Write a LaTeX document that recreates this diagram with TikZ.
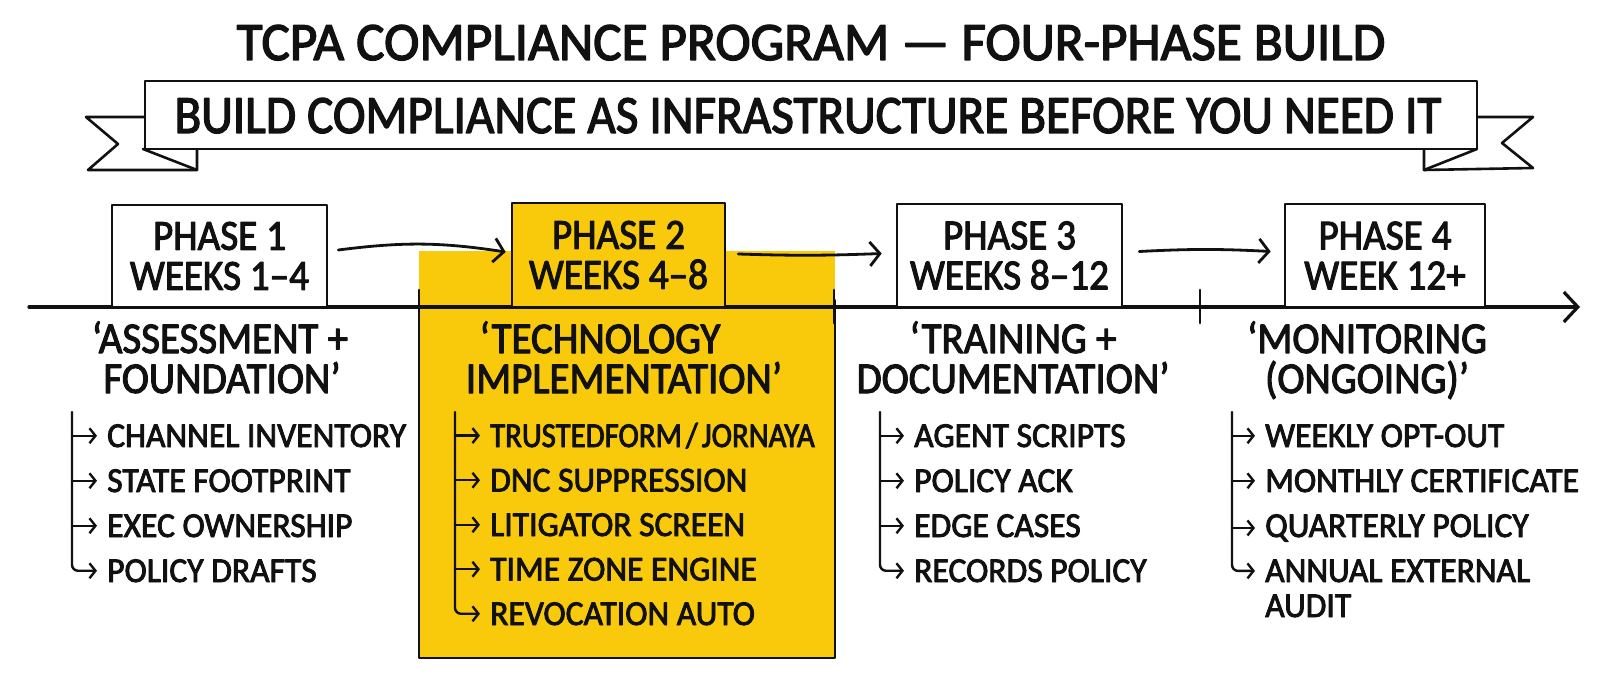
\documentclass[tikz,border=0pt]{standalone}
\usepackage{fontspec}
\setmainfont{Carlito}[FakeStretch=0.91, FakeBold=2.4]
\newfontfamily\titlefont{Carlito}[FakeStretch=0.985, FakeBold=2.6]
\newfontfamily\subfont{Carlito}[FakeStretch=0.93, FakeBold=2.4]
\newfontfamily\itemfont{Carlito}[FakeStretch=0.96, FakeBold=2.5]
\newfontfamily\narrowitemfont{Carlito}[FakeStretch=0.88, FakeBold=2.5]
\usetikzlibrary{arrows.meta,calc}
\definecolor{hy}{RGB}{249,201,12}
\definecolor{ink}{RGB}{17,17,17}
\begin{document}
\begin{tikzpicture}[x=1pt,y=-1pt,line cap=round,line join=round,
  every node/.style={text=ink},
  titletext/.style={font=\titlefont\fontsize{54}{54}\selectfont, inner sep=0pt},
  bannertextstyle/.style={font=\fontsize{54}{54}\selectfont, inner sep=0pt},
  phasebox/.style={draw=ink, line width=2.6pt, align=center, font=\fontsize{43}{40}\selectfont, inner sep=0pt},
  sublabel/.style={font=\subfont\fontsize{44}{40}\selectfont, inner sep=0pt, anchor=base},
  item/.style={font=\itemfont\fontsize{35}{35}\selectfont, inner sep=0pt, anchor=base west},
  flowarr/.style={draw=ink, line width=2.8pt, -{Straight Barb[length=10pt,width=24pt,line width=2.8pt]}},
  itemarr/.style={draw=ink, line width=2.4pt, -{Straight Barb[length=6pt,width=15pt,line width=2.4pt]}},
  bannerline/.style={draw=ink, line width=2.6pt},
  tick/.style={draw=ink, line width=2.8pt}]
\useasboundingbox (0,0) rectangle (1600,679);
\fill[white] (0,0) rectangle (1600,679);

% title
\node[titletext, anchor=base] (title) at (811,60) {TCPA COMPLIANCE PROGRAM — FOUR-PHASE BUILD};

% banner tails
\begin{scope}
  \clip (143,149) -- (197,149) -- (197,170) -- cycle;
  \foreach \k in {0,...,20} {\draw[ink, line width=1pt] (120+5*\k,175) -- (145+5*\k,140);}
\end{scope}
\begin{scope}
  \clip (1424,149) -- (1477,149) -- (1424,170) -- cycle;
  \foreach \k in {0,...,20} {\draw[ink, line width=1pt] (1400+5*\k,175) -- (1425+5*\k,140);}
\end{scope}
\draw[bannerline, fill=white] (145,117) -- (86,117) -- (118,144) -- (88,170) -- (197,170) -- (197,149);
\draw[bannerline] (143,149) -- (197,170);
\draw[bannerline, fill=white] (1477,117) -- (1533,117) -- (1502,143) -- (1533,168) -- (1424,170) -- (1424,149);
\draw[bannerline] (1477,149) -- (1424,170);
\node[draw=ink, line width=2.6pt, fill=white, minimum width=1332pt, minimum height=68pt, inner sep=0pt] (banner) at (811,115) {};
\node[bannertextstyle, anchor=base] (bannertext) at (808,133) {BUILD COMPLIANCE AS INFRASTRUCTURE BEFORE YOU NEED IT};

% highlight column
\fill[hy] (419,251) rectangle (835,658);
\draw[ink, line width=1.6pt] (419,300) -- (419,658) -- (835,658) -- (835,300);

% timeline
\coordinate (tl0) at (29,307);
\coordinate (tl1) at (1580,307);
\draw[draw=ink, line width=3.2pt, -{Straight Barb[length=14pt,width=30pt,line width=3.2pt]}] (tl0) -- (tl1);
\foreach \xx in {419,834,1200} {\draw[tick] (\xx,290) -- (\xx,323);}

% phase boxes
\node[phasebox, fill=white, minimum width=215pt, minimum height=102pt] (p1) at (219.5,256) {PHASE 1\\WEEKS 1–4};
\node[phasebox, fill=hy, minimum width=213pt, minimum height=104pt] (p2) at (618.5,255) {PHASE 2\\WEEKS 4–8};
\node[phasebox, fill=white, minimum width=225pt, minimum height=103pt] (p3) at (1009.5,255.5) {PHASE 3\\WEEKS 8–12};
\node[phasebox, fill=white, minimum width=200pt, minimum height=103pt] (p4) at (1385,255.5) {PHASE 4\\WEEK 12+};

% flow arrows
\draw[flowarr] ($(p1.east)+(10,-6)$) to[bend left=8] ($(p2.west)+(-5,-3)$);
\draw[flowarr] ($(p2.east)+(12,-1)$) to[bend right=2] ($(p3.west)+(-14,-2)$);
\draw[flowarr] ($(p3.east)+(16,-4)$) to[bend left=3] ($(p4.west)+(-13,-4)$);

% sub labels
\node[sublabel] (s1a) at (220,353) {‘ASSESSMENT +};
\node[sublabel] (s1b) at (222,393) {FOUNDATION’};
\node[sublabel] (s2a) at (600,353) {‘TECHNOLOGY};
\node[sublabel] (s2b) at (624,393) {IMPLEMENTATION’};
\node[sublabel] (s3a) at (1013,353) {‘TRAINING +};
\node[sublabel] (s3b) at (1013,393) {DOCUMENTATION’};
\node[sublabel] (s4a) at (1367,353) {‘MONITORING};
\node[sublabel] (s4b) at (1367,393) {(ONGOING)’};

% lists
% column 1
\coordinate (b1) at (72,412);
\foreach \t [count=\i] in {CHANNEL INVENTORY, STATE FOOTPRINT, EXEC OWNERSHIP, POLICY DRAFTS} {
  \node[item] (c1i\i) at (107,{447+45*(\i-1)}) {\t};
}
\foreach \i in {1,2,3} {\draw[itemarr] (b1 |- c1i\i.west) -- ([xshift=-10pt]c1i\i.west);}
\draw[itemarr, rounded corners=6pt] (b1) -- (b1 |- c1i4.west) -- ([xshift=-10pt]c1i4.west);

% column 2
\coordinate (b2) at (455,412);
\node[item, font=\narrowitemfont\fontsize{35}{35}\selectfont] (c2i1) at (490,447) {TRUSTEDFORM\kern4pt/\kern4pt JORNAYA};
\foreach \t [count=\i from 2] in {DNC SUPPRESSION, LITIGATOR SCREEN, TIME ZONE ENGINE, REVOCATION AUTO} {
  \node[item] (c2i\i) at (490,{447+44.5*(\i-1)}) {\t};
}
\foreach \i in {1,2,3,4} {\draw[itemarr] (b2 |- c2i\i.west) -- ([xshift=-10pt]c2i\i.west);}
\draw[itemarr, rounded corners=6pt] (b2) -- (b2 |- c2i5.west) -- ([xshift=-10pt]c2i5.west);

% column 3
\coordinate (b3) at (880,412);
\foreach \t [count=\i] in {AGENT SCRIPTS, POLICY ACK, EDGE CASES, RECORDS POLICY} {
  \node[item] (c3i\i) at (914,{447+45*(\i-1)}) {\t};
}
\foreach \i in {1,2,3} {\draw[itemarr] (b3 |- c3i\i.west) -- ([xshift=-10pt]c3i\i.west);}
\draw[itemarr, rounded corners=6pt] (b3) -- (b3 |- c3i4.west) -- ([xshift=-10pt]c3i4.west);

% column 4
\coordinate (b4) at (1232,412);
\foreach \t [count=\i] in {WEEKLY OPT-OUT, MONTHLY CERTIFICATE, QUARTERLY POLICY, ANNUAL EXTERNAL} {
  \node[item] (c4i\i) at (1265,{447+45*(\i-1)}) {\t};
}
\node[item] (c4i5) at (1265,617) {AUDIT};
\foreach \i in {1,2,3} {\draw[itemarr] (b4 |- c4i\i.west) -- ([xshift=-10pt]c4i\i.west);}
\draw[itemarr, rounded corners=6pt] (b4) -- (b4 |- c4i4.west) -- ([xshift=-10pt]c4i4.west);
\end{tikzpicture}
\end{document}
